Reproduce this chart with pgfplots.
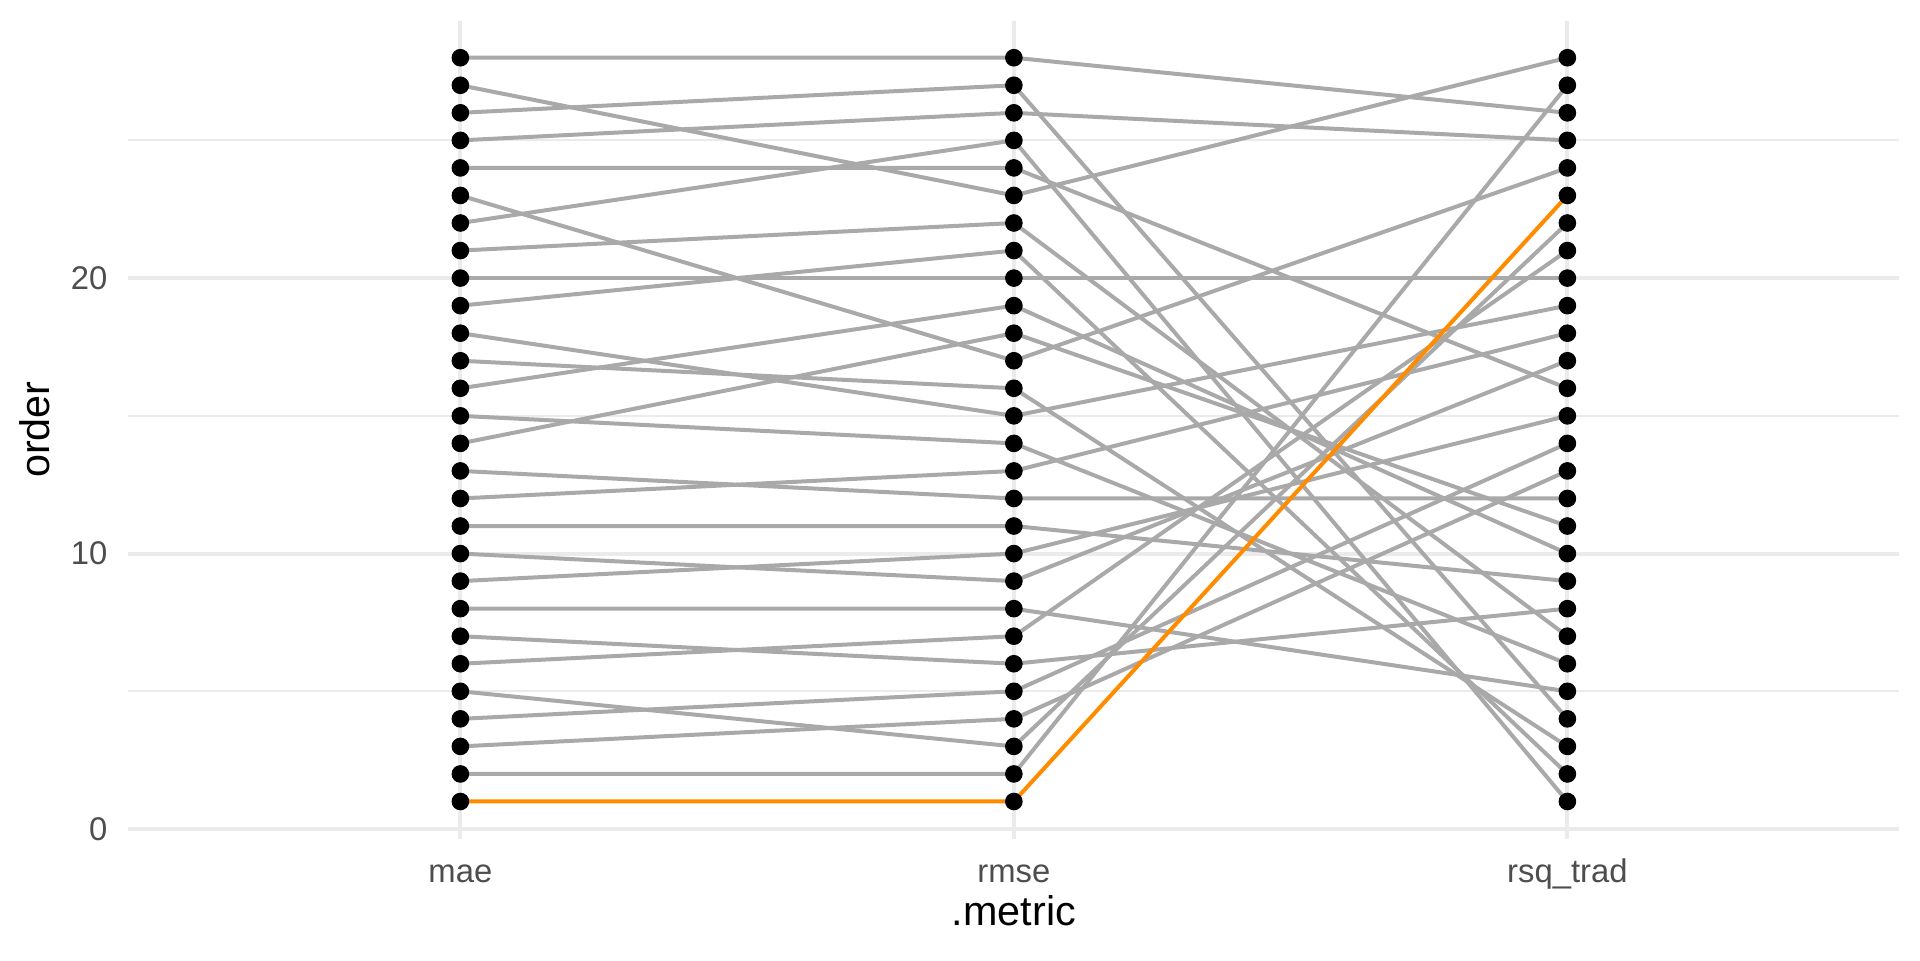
\documentclass[border=0pt]{standalone}
\usepackage{pgfplots}
\pgfplotsset{compat=1.18}
\usepackage{fontspec}
\setmainfont{Liberation Sans}
\definecolor{gridgrey}{HTML}{EBEBEB}
\definecolor{tickgrey}{HTML}{4D4D4D}
\definecolor{lgrey}{HTML}{A9A9A9}
\definecolor{dorange}{HTML}{FF8C00}
\begin{document}
\begin{tikzpicture}
\path[use as bounding box] (0,0) rectangle (720pt,360pt);
\begin{axis}[
  at={(48.1pt,45.5pt)}, anchor=south west,
  width=664.2pt, height=306.8pt, scale only axis,
  xmin=-0.6, xmax=2.6, ymin=-0.35, ymax=29.35,
  xtick={0,1,2}, xticklabels={mae,rmse,rsq\_trad},
  ytick={0,10,20}, minor ytick={5,15,25},
  grid=both,
  major grid style={color=gridgrey, line width=1.5pt},
  minor grid style={color=gridgrey, line width=0.75pt},
  axis line style={draw=none},
  tick style={draw=none},
  major tick length=0pt, minor tick length=0pt,
  tick label style={font=\fontsize{12.3}{14}\selectfont, text=tickgrey},
  /pgf/number format/assume math mode=true,
  xticklabel style={anchor=base, inner sep=0pt, yshift=-16.3pt},
  yticklabel style={anchor=east, inner sep=0pt, xshift=-7.6pt},
  xlabel={.metric}, ylabel={order},
  xlabel style={at={(axis description cs:0.5,-0.1056)}, anchor=base, inner sep=0pt, font=\fontsize{15.5}{18}\selectfont},
  ylabel style={at={(axis description cs:-0.0447,0.5)}, anchor=base, inner sep=0pt, rotate=0, font=\fontsize{15.5}{18}\selectfont},
  clip=false,
  gl/.style={lgrey, line width=1.5pt, line join=round, mark=none},
]
% points
\addplot[only marks, mark=*, mark size=3.1pt, black] coordinates {(0,1)(0,2)(0,3)(0,4)(0,5)(0,6)(0,7)(0,8)(0,9)(0,10)(0,11)(0,12)(0,13)(0,14)(0,15)(0,16)(0,17)(0,18)(0,19)(0,20)(0,21)(0,22)(0,23)(0,24)(0,25)(0,26)(0,27)(0,28)};
\addplot[only marks, mark=*, mark size=3.1pt, black] coordinates {(1,1)(1,2)(1,3)(1,4)(1,5)(1,6)(1,7)(1,8)(1,9)(1,10)(1,11)(1,12)(1,13)(1,14)(1,15)(1,16)(1,17)(1,18)(1,19)(1,20)(1,21)(1,22)(1,23)(1,24)(1,25)(1,26)(1,27)(1,28)};
\addplot[only marks, mark=*, mark size=3.1pt, black] coordinates {(2,1)(2,2)(2,3)(2,4)(2,5)(2,6)(2,7)(2,8)(2,9)(2,10)(2,11)(2,12)(2,13)(2,14)(2,15)(2,16)(2,17)(2,18)(2,19)(2,20)(2,21)(2,22)(2,23)(2,24)(2,25)(2,26)(2,27)(2,28)};
% lines
\addplot[gl] coordinates {(0,28)(1,28)(2,26)};
\addplot[gl] coordinates {(0,27)(1,23)(2,28)};
\addplot[gl] coordinates {(0,26)(1,27)(2,4)};
\addplot[gl] coordinates {(0,25)(1,26)(2,25)};
\addplot[gl] coordinates {(0,24)(1,24)(2,16)};
\addplot[gl] coordinates {(0,23)(1,17)(2,24)};
\addplot[gl] coordinates {(0,22)(1,25)(2,1)};
\addplot[gl] coordinates {(0,21)(1,22)(2,7)};
\addplot[gl] coordinates {(0,20)(1,20)(2,20)};
\addplot[gl] coordinates {(0,19)(1,21)(2,2)};
\addplot[gl] coordinates {(0,18)(1,15)(2,19)};
\addplot[gl] coordinates {(0,17)(1,16)(2,3)};
\addplot[gl] coordinates {(0,16)(1,19)(2,10)};
\addplot[gl] coordinates {(0,15)(1,14)(2,6)};
\addplot[gl] coordinates {(0,14)(1,18)(2,11)};
\addplot[gl] coordinates {(0,13)(1,12)(2,12)};
\addplot[gl] coordinates {(0,12)(1,13)(2,18)};
\addplot[gl] coordinates {(0,11)(1,11)(2,9)};
\addplot[gl] coordinates {(0,10)(1,9)(2,17)};
\addplot[gl] coordinates {(0,9)(1,10)(2,15)};
\addplot[gl] coordinates {(0,8)(1,8)(2,5)};
\addplot[gl] coordinates {(0,7)(1,6)(2,8)};
\addplot[gl] coordinates {(0,6)(1,7)(2,21)};
\addplot[gl] coordinates {(0,5)(1,3)(2,22)};
\addplot[gl] coordinates {(0,4)(1,5)(2,14)};
\addplot[gl] coordinates {(0,3)(1,4)(2,13)};
\addplot[gl] coordinates {(0,2)(1,2)(2,27)};
\addplot[dorange, line width=1.5pt, line join=round, mark=none] coordinates {(0,1)(1,1)(2,23)};
\end{axis}
\end{tikzpicture}
\end{document}
